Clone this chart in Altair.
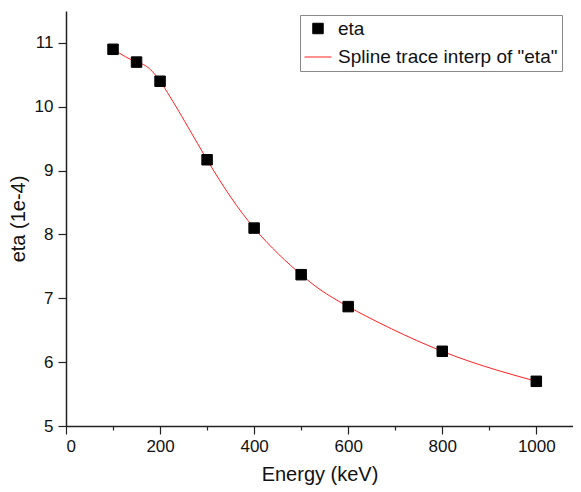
import altair as alt
import pandas as pd

energy = [100, 150, 200, 300, 400, 500, 600, 800, 1000]
eta = [10.9, 10.7, 10.4, 9.17, 8.1, 7.37, 6.87, 6.17, 5.7]
series_names = ["eta", 'Spline trace interp of "eta"']
series_colors = ["#000000", "#ff2020"]
series_shapes = ["square", "stroke"]
x_ticks = list(range(0, 1001, 100))
y_ticks = [5 + 0.5 * i for i in range(14)]

pts = pd.DataFrame({"energy": energy, "eta": eta, "series": series_names[0]})
spl = pd.DataFrame({"energy": energy, "eta": eta, "series": series_names[1]})

FONT = "Liberation Sans"

x_enc = alt.X(
    "energy:Q",
    scale=alt.Scale(domain=[0, 1078], nice=False, zero=False),
    axis=alt.Axis(
        title="Energy (keV)",
        values=x_ticks,
        format="d",
        labelExpr="datum.value % 200 === 0 ? datum.label : ''",
        grid=False,
        tickSize={"condition": {"test": "datum.value % 200 === 0", "value": 8}, "value": 4},
        labelPadding=4,
        titlePadding=10,
    ),
)
y_enc = alt.Y(
    "eta:Q",
    scale=alt.Scale(domain=[5, 11.5], nice=False, zero=False),
    axis=alt.Axis(
        title="eta (1e-4)",
        values=y_ticks,
        format="d",
        labelExpr="datum.value % 1 === 0 ? datum.label : ''",
        grid=False,
        tickSize={"condition": {"test": "datum.value % 1 === 0", "value": 8}, "value": 5},
        labelPadding=5,
        titlePadding=6,
    ),
)

color_scale = alt.Scale(domain=series_names, range=series_colors)
legend = alt.Legend(
    title=None,
    orient="none",
    legendX=234,
    legendY=4,
    strokeColor="#888888",
    padding=4,
    labelFont=FONT,
    labelFontSize=19,
    labelColor="#111111",
    labelLimit=400,
    rowPadding=4,
    labelOffset=6,
    symbolStrokeWidth=1,
)

line = alt.Chart(spl).mark_line(interpolate="natural", strokeWidth=1).encode(
    x=x_enc,
    y=y_enc,
    color=alt.Color("series:N", scale=color_scale, legend=legend),
)

points = alt.Chart(pts).mark_point(filled=True, opacity=1, strokeWidth=1).encode(
    x=x_enc,
    y=y_enc,
    color=alt.Color("series:N", scale=color_scale, legend=legend),
    stroke=alt.Stroke("series:N", scale=color_scale, legend=legend),
    shape=alt.Shape("series:N", scale=alt.Scale(domain=series_names, range=series_shapes), legend=legend),
    size=alt.Size("series:N", scale=alt.Scale(domain=series_names, range=[110, 729]), legend=legend),
)

chart = (
    alt.layer(line, points)
    .properties(
        width=507,
        height=415,
        autosize=alt.AutoSizeParams(type="none"),
        padding={"left": 58, "top": 3, "right": 0, "bottom": 60},
    )
    .configure_view(stroke=None)
    .configure_axis(
        domainColor="#222222",
        domainWidth=1.5,
        tickColor="#222222",
        tickWidth=1.2,
        labelFont=FONT,
        labelFontSize=17,
        labelColor="#111111",
        titleFont=FONT,
        titleFontSize=20,
        titleFontWeight="normal",
        titleColor="#111111",
    )
)

chart.save("out.html", embed_options={"renderer": "svg", "actions": False})
